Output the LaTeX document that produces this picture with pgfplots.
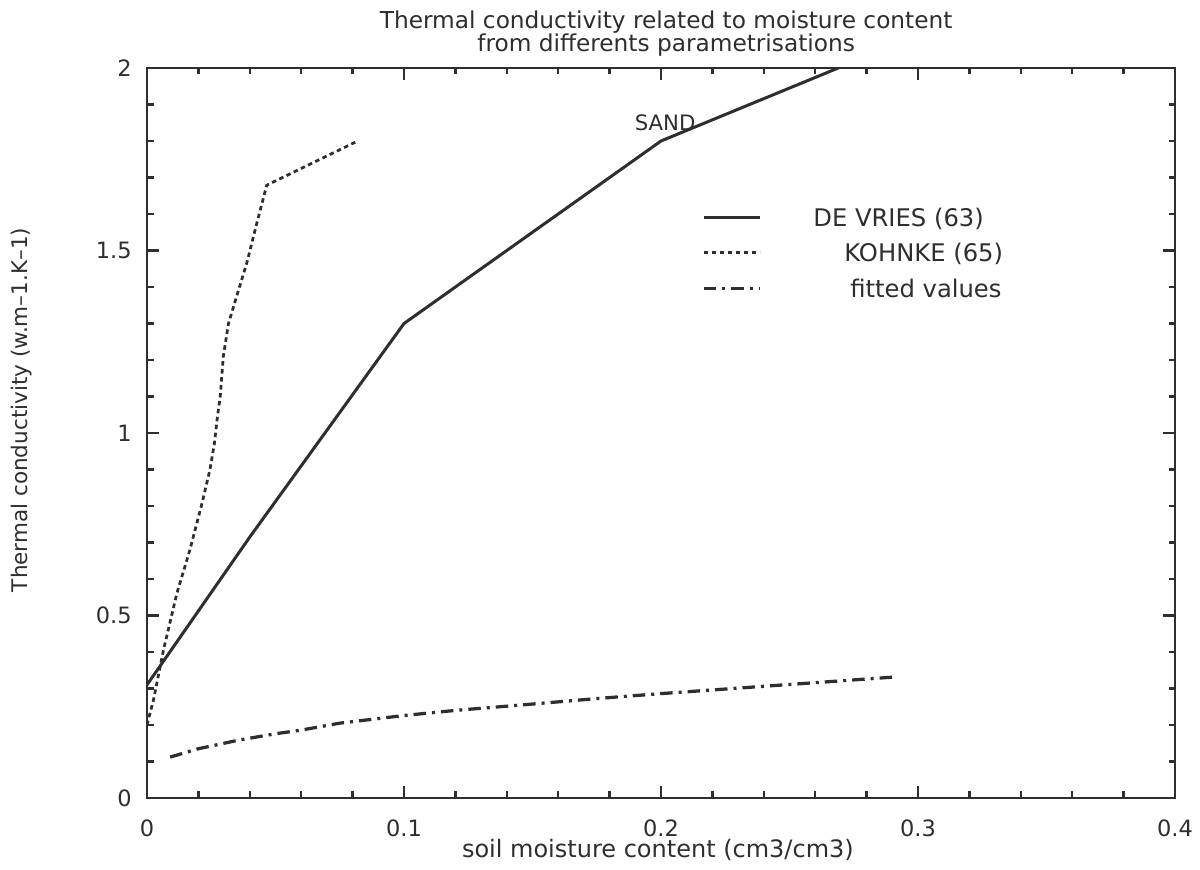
\documentclass[border=0pt]{standalone}
\usepackage{fontspec}
\setmainfont{DejaVu Sans}
\usepackage{pgfplots}
\pgfplotsset{compat=1.18}
\definecolor{ink}{gray}{0.18}
\begin{document}
\begin{tikzpicture}[x=1pt,y=1pt]
\useasboundingbox (0,0) rectangle (480,348);
\begin{axis}[
  at={(58.8pt,28.8pt)}, anchor=south west,
  scale only axis, width=411.2pt, height=292pt,
  xmin=0, xmax=0.4, ymin=0, ymax=2,
  xtick={0,0.1,0.2,0.3,0.4}, ytick={0,0.5,1,1.5,2},
  xticklabels={0,0.1,0.2,0.3,0.4},
  yticklabels={0,0.5,1,1.5,2},
  minor x tick num=4, minor y tick num=4,
  tick align=inside,
  major tick length=4.8pt, minor tick length=2.6pt,
  axis line style={line width=1.1pt, ink},
  every tick/.style={line width=0.9pt, ink},
  /pgf/number format/assume math mode=true,
  xticklabel style={font=\fontsize{9}{10}\selectfont, text=ink, yshift=-5pt},
  yticklabel style={font=\fontsize{9}{10}\selectfont, text=ink, xshift=-2.6pt},
  xlabel={soil moisture content (cm3/cm3)},
  xlabel style={at={(axis description cs:0.497,0)}, anchor=base, yshift=-24pt, inner sep=0pt, font=\fontsize{9.6}{11}\selectfont, text=ink},
  ylabel={Thermal conductivity (w.m–1.K–1)},
  ylabel style={at={(axis description cs:-0.1216,0.5315)}, anchor=center, inner sep=0pt, font=\fontsize{8.6}{10}\selectfont, text=ink},
  every axis title shift=0pt,
  title={Thermal conductivity related to moisture content\\[-2.2pt]from differents parametrisations},
  title style={at={(axis description cs:0.505,1)}, anchor=south, align=center, inner sep=0pt, yshift=4.6pt, font=\fontsize{9.3}{11.2}\selectfont, text=ink},
  legend style={at={(axis description cs:0.540,0.811)}, anchor=north west, draw=none, fill=none, inner sep=0pt, outer sep=0pt, row sep=4.6pt, column sep=20.8pt, font=\fontsize{9.7}{11.6}\selectfont, text=ink, nodes={inner sep=0pt}},
  legend cell align=left,
  legend image code/.code={\draw[#1] (0pt,0.3pt) -- (22.4pt,0.3pt);},
]
\addplot[ink, line width=1.2pt] coordinates {
(0,0.31) (0.04,0.715) (0.1,1.30) (0.2,1.80) (0.3,2.09)};
\addlegendentry{\strut DE VRIES (63)}
\addplot[ink, line width=1.1pt, dash pattern=on 1.8pt off 1.4pt] coordinates {
(0,0.20) (0.0025,0.268) (0.0064,0.405) (0.0116,0.56) (0.0167,0.68) (0.0215,0.81) (0.0245,0.90) (0.0262,0.97) (0.0275,1.05) (0.0285,1.10) (0.0297,1.21) (0.0317,1.30) (0.0349,1.375) (0.0388,1.465) (0.0427,1.574) (0.0466,1.679) (0.082,1.80)};
\addlegendentry{\hspace*{12.4pt}\strut KOHNKE (65)}
\addplot[ink, line width=1.3pt, dash pattern=on 5pt off 2.4pt on 1.2pt off 2.4pt] coordinates {
(0.009,0.112) (0.02,0.135) (0.036,0.159) (0.05,0.176) (0.06,0.186) (0.075,0.205) (0.1,0.226) (0.12,0.240) (0.146,0.255) (0.176,0.273) (0.2,0.286) (0.22,0.296) (0.25,0.311) (0.27,0.321) (0.29,0.331)};
\addlegendentry{\hspace*{14.8pt}\strut fitted values}
\node[font=\fontsize{8.5}{10}\selectfont, text=ink] at (axis cs:0.2016,1.85) {SAND};
\end{axis}
\end{tikzpicture}
\end{document}
